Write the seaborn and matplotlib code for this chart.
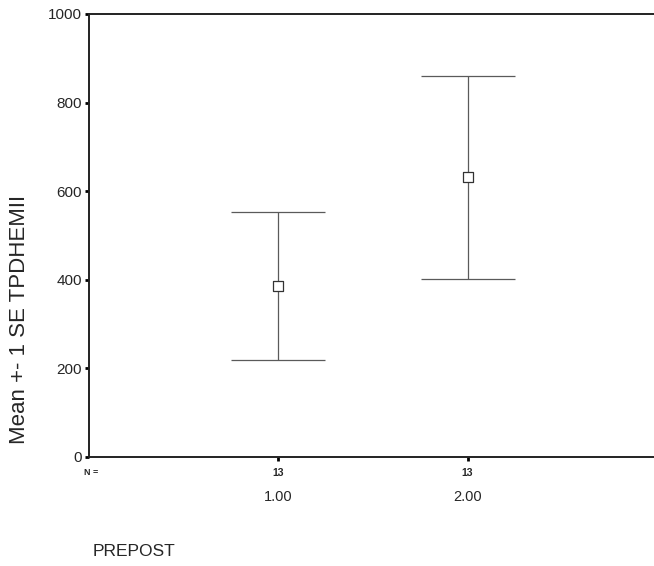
import matplotlib
matplotlib.use('Agg')
import matplotlib.pyplot as plt
import matplotlib.transforms as mtransforms
import numpy as np
import pandas as pd
import seaborn as sns

# summary values
groups = [1.00, 2.00]
group_labels = ['1.00', '2.00']
means = [386, 631]
upper = [552, 861]
lower = [219, 401]
n_counts = [13, 13]

sns.set_style('ticks')
plt.rcParams['font.family'] = ['Liberation Sans', 'DejaVu Sans']

df = pd.DataFrame({'PREPOST': groups, 'mean': means})
err = np.array([np.array(means) - np.array(lower), np.array(upper) - np.array(means)])

fig = plt.figure(figsize=(6.54, 5.66), dpi=100)
ax = fig.add_axes([0.136, 0.1926, 0.8685, 0.7827])

ax.errorbar(groups, means, yerr=err, fmt='none', ecolor='#5a5a5a',
            elinewidth=0.9, capsize=34, capthick=0.9)
sns.scatterplot(data=df, x='PREPOST', y='mean', marker='s', s=45,
                facecolor='white', edgecolor='#333333', linewidth=0.9,
                ax=ax, zorder=3, legend=False)

ax.set_xlim(0, 3)
ax.set_ylim(0, 1000)
ax.set_yticks(range(0, 1001, 200))
ax.set_xticks(groups)
ax.set_xticklabels(group_labels, fontsize=10.5)
ax.tick_params(axis='x', length=3, width=2, pad=21, color='black')
ax.tick_params(axis='y', length=3, width=2, pad=2, labelsize=11, color='black')

for side in ['left', 'bottom', 'top']:
    ax.spines[side].set_linewidth(1.4)
    ax.spines[side].set_color('#222222')
ax.spines['right'].set_visible(False)

trans = mtransforms.blended_transform_factory(ax.transData, ax.transAxes)
for g, n in zip(groups, n_counts):
    ax.text(g, -0.025, str(n), transform=trans, ha='center', va='top',
            fontsize=7.5, fontweight='bold')
ax.text(0.004, -0.025, 'N =', transform=ax.transAxes, ha='center', va='top',
        fontsize=6.5, fontweight='bold')

ax.set_xlabel('')
ax.set_ylabel('Mean +- 1 SE TPDHEMII', fontsize=16)
ax.yaxis.set_label_coords(-0.103, 0.31)
fig.text(0.141, 0.013, 'PREPOST', fontsize=12.5, ha='left', va='bottom')

fig.savefig('out.png', dpi=100)
